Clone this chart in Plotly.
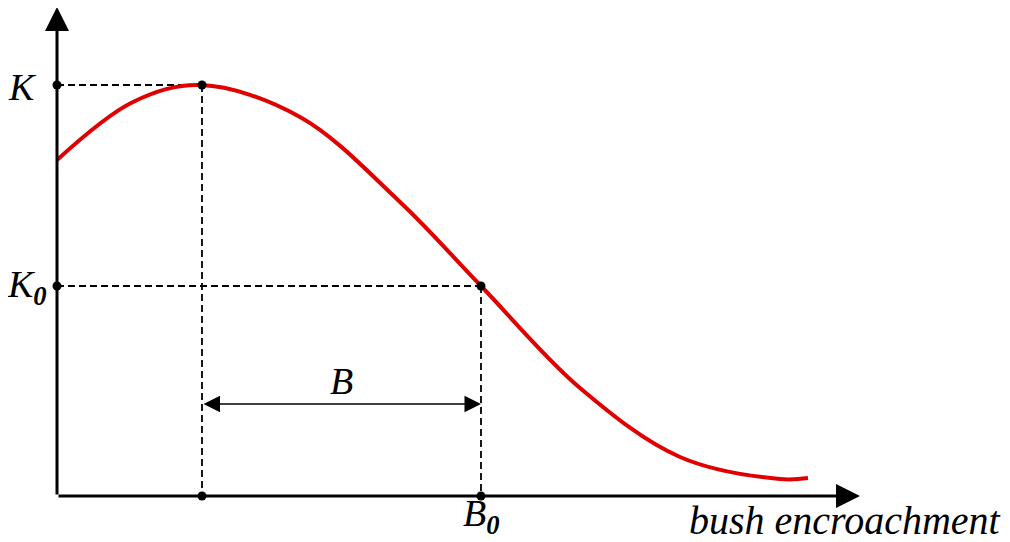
import plotly.graph_objects as go

# curve, origin at the axes corner (x right, y up)
curve_x = [0, 76, 144, 243, 343, 424, 523, 623, 723, 751]
curve_y = [336, 394, 411, 379, 294, 210, 108, 39, 17, 18]

# marked points: peak (K) and the K0 / B0 point
peak_x, peak_y = 145, 411
b0_x, k0_y = 424, 210

# axis ends
x_end = 803
y_end = 489

serif = "Liberation Serif"
ink = "black"

fig = go.Figure()

# dashed guides
guides = [
    ([0, peak_x], [peak_y, peak_y]),
    ([peak_x, peak_x], [peak_y, 0]),
    ([0, b0_x], [k0_y, k0_y]),
    ([b0_x, b0_x], [k0_y, 0]),
]
for gx, gy in guides:
    fig.add_trace(go.Scatter(x=gx, y=gy, mode="lines",
                             line=dict(color=ink, width=1.8, dash="7px,4px"),
                             hoverinfo="skip", showlegend=False))

# red curve
fig.add_trace(go.Scatter(x=curve_x, y=curve_y, mode="lines",
                         line=dict(color="#e00000", width=4, shape="spline", smoothing=1.0),
                         showlegend=False))

# dots
fig.add_trace(go.Scatter(x=[0, peak_x, 0, b0_x, peak_x, b0_x],
                         y=[peak_y, peak_y, k0_y, k0_y, 0, 0],
                         mode="markers", marker=dict(color=ink, size=9),
                         showlegend=False))

# axes with arrow heads
fig.add_annotation(x=x_end, y=0, ax=0, ay=0, xref="x", yref="y", axref="x", ayref="y",
                   showarrow=True, arrowhead=2, arrowsize=1.6, arrowwidth=3,
                   arrowcolor=ink, standoff=0, text="")
fig.add_annotation(x=0, y=y_end, ax=0, ay=0, xref="x", yref="y", axref="x", ayref="y",
                   showarrow=True, arrowhead=2, arrowsize=1.6, arrowwidth=3,
                   arrowcolor=ink, standoff=0, text="")

# double arrow for B
fig.add_annotation(x=b0_x, y=92, ax=peak_x, ay=92, xref="x", yref="y", axref="x", ayref="y",
                   showarrow=True, arrowhead=2, arrowside="end+start", arrowsize=2.2,
                   arrowwidth=1.5, arrowcolor=ink, standoff=0, startstandoff=0, text="")

label_font = dict(family=serif, size=38, color=ink, style="italic")
labels = [
    ("K", -35, peak_y - 2, "center"),
    ("K<sub><b>0</b></sub>", -30, k0_y - 1, "center"),
    ("B", (peak_x + b0_x) / 2, 115, "center"),
    ("B<sub><b>0</b></sub>", b0_x, -20, "center"),
]
for txt, lx, ly, anc in labels:
    fig.add_annotation(x=lx, y=ly, text=txt, showarrow=False, xanchor=anc,
                       yanchor="middle", font=label_font)
fig.add_annotation(x=946, y=-24, text="bush encroachment", showarrow=False,
                   xanchor="right", yanchor="middle",
                   font=dict(family=serif, size=40, color=ink, style="italic"))

# page body has an 8px margin, so the figure is drawn 8px in from the corner
fig.update_xaxes(range=[-49, 953], visible=False, fixedrange=True)
fig.update_yaxes(range=[-46, 488], visible=False, fixedrange=True)
fig.update_layout(width=1002, height=534, margin=dict(l=0, r=0, t=0, b=0),
                  plot_bgcolor="white", paper_bgcolor="white", showlegend=False)

fig.write_html("out.html")
